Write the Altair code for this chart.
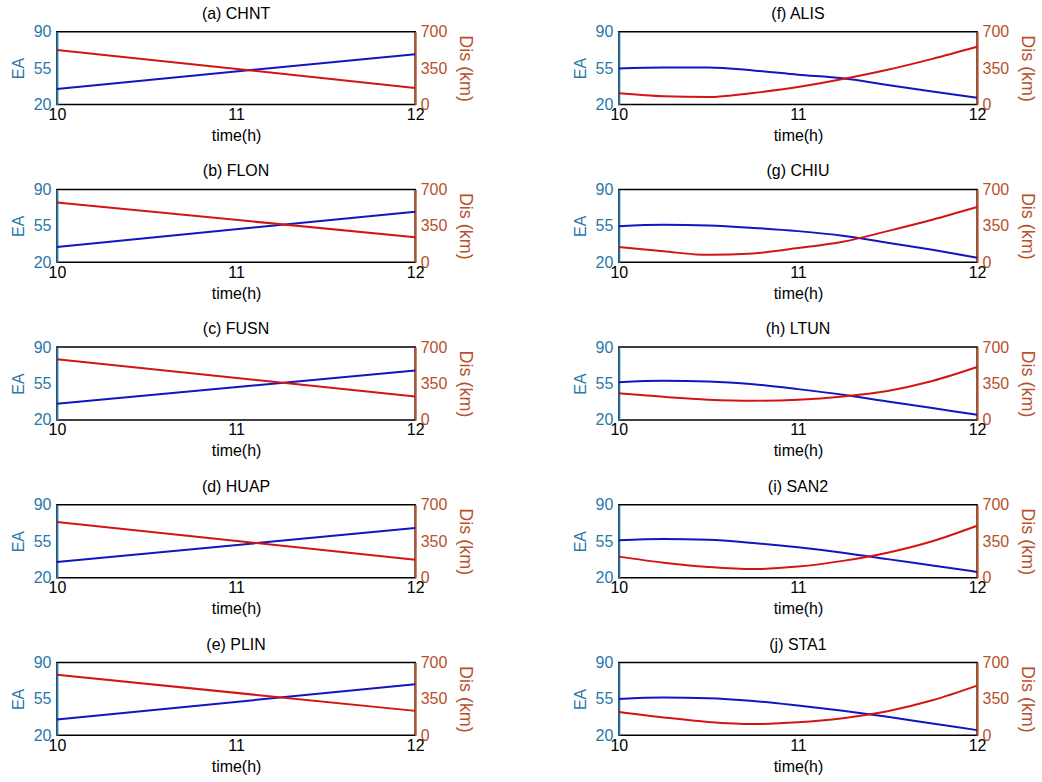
import altair as alt
import pandas as pd

# ---------------- data ----------------
T_LINEAR = [10, 12]
T_CURVE = [10, 10.25, 10.5, 10.75, 11, 11.25, 11.5, 11.75, 12]

X_TICKS = [10, 11, 12]
EA_TICKS = [20, 55, 90]
DIS_TICKS = [0, 350, 700]

LEFT_TITLES = ["(a) CHNT", "(b) FLON", "(c) FUSN", "(d) HUAP", "(e) PLIN"]
RIGHT_TITLES = ["(f) ALIS", "(g) CHIU", "(h) LTUN", "(i) SAN2", "(j) STA1"]

EA_CHNT = [35.0, 68.4]
DIS_CHNT = [525, 160]
EA_FLON = [34.7, 68.6]
DIS_FLON = [574, 240]
EA_FUSN = [35.6, 67.5]
DIS_FUSN = [584, 225]
EA_HUAP = [35.0, 67.6]
DIS_HUAP = [534, 173]
EA_PLIN = [35.2, 69.1]
DIS_PLIN = [581, 235]

EA_ALIS = [54.7, 55.5, 55.5, 52.8, 48.7, 45.2, 38.8, 32.6, 26.6]
DIS_ALIS = [109, 80, 72, 112, 168, 245, 334, 439, 555]
EA_CHIU = [54.7, 56.0, 55.3, 53.0, 49.9, 45.5, 38.7, 31.9, 24.4]
DIS_CHIU = [146, 105, 71, 85, 136, 197, 299, 408, 530]
EA_LTUN = [56.3, 57.7, 57.0, 54.3, 49.6, 44.2, 37.8, 31.4, 25.0]
DIS_LTUN = [256, 222, 195, 185, 195, 226, 279, 374, 508]
EA_SAN2 = [56.0, 57.1, 56.4, 53.3, 49.2, 44.0, 37.8, 31.7, 25.5]
DIS_SAN2 = [202, 144, 103, 82, 106, 161, 240, 350, 498]
EA_STA1 = [55.0, 56.3, 55.7, 53.0, 48.6, 43.6, 37.8, 31.4, 25.0]
DIS_STA1 = [225, 172, 128, 108, 125, 165, 232, 337, 478]

LEFT_DATA = [(T_LINEAR, EA_CHNT, DIS_CHNT), (T_LINEAR, EA_FLON, DIS_FLON),
             (T_LINEAR, EA_FUSN, DIS_FUSN), (T_LINEAR, EA_HUAP, DIS_HUAP),
             (T_LINEAR, EA_PLIN, DIS_PLIN)]
RIGHT_DATA = [(T_CURVE, EA_ALIS, DIS_ALIS), (T_CURVE, EA_CHIU, DIS_CHIU),
              (T_CURVE, EA_LTUN, DIS_LTUN), (T_CURVE, EA_SAN2, DIS_SAN2),
              (T_CURVE, EA_STA1, DIS_STA1)]

# ---------------- style ----------------
FONT = "Liberation Sans"
EA_COLOR = "#2a78a8"
DIS_COLOR = "#b8502c"
LINE_BLUE = "#1414c0"
LINE_RED = "#d41414"
W, H = 359, 73


def panel(title, t, ea, dis):
    df = pd.DataFrame({"t": t, "ea": ea, "dis": dis})
    x_enc = alt.X(
        "t:Q",
        scale=alt.Scale(domain=[10, 12], nice=False, zero=False),
        axis=alt.Axis(values=X_TICKS, title="time(h)", domain=False, ticks=False,
                      grid=False, labelFlush=False, labelOverlap=False, labelPadding=2,
                      labelFontSize=16, titleFontSize=16, titleFontWeight="normal",
                      titlePadding=5, labelColor="black", titleColor="black", format=".0f"),
    )
    blue = alt.Chart(df).mark_line(color=LINE_BLUE, strokeWidth=2, interpolate="monotone").encode(
        x=x_enc,
        y=alt.Y(
            "ea:Q",
            scale=alt.Scale(domain=[20, 90], nice=False, zero=False),
            axis=alt.Axis(values=EA_TICKS, title="EA", orient="left", grid=False, ticks=False,
                          domainColor=EA_COLOR, domainWidth=2, labelColor=EA_COLOR,
                          labelOverlap=False, titleColor=EA_COLOR, labelFontSize=16,
                          titleFontSize=16, titleFontWeight="normal", labelPadding=6,
                          titlePadding=7, format=".0f"),
        ),
    )
    red = alt.Chart(df).mark_line(color=LINE_RED, strokeWidth=2, interpolate="monotone").encode(
        x=x_enc,
        y=alt.Y(
            "dis:Q",
            scale=alt.Scale(domain=[0, 700], nice=False, zero=False),
            axis=alt.Axis(values=DIS_TICKS, title="Dis (km)", orient="right", grid=False, ticks=False,
                          domainColor=DIS_COLOR, domainWidth=2, labelColor=DIS_COLOR,
                          labelOverlap=False, titleColor=DIS_COLOR, labelFontSize=16,
                          titleFontSize=18, titleFontWeight="normal", labelPadding=5,
                          titlePadding=9, format=".0f"),
        ),
    )
    return alt.layer(blue, red).resolve_scale(y="independent").properties(
        width=W, height=H,
        title=alt.TitleParams(title, fontSize=16, fontWeight="normal", offset=2,
                              anchor="middle", color="black", font=FONT),
    )


left = alt.vconcat(*[panel(tt, *d) for tt, d in zip(LEFT_TITLES, LEFT_DATA)], spacing=18)
right = alt.vconcat(*[panel(tt, *d) for tt, d in zip(RIGHT_TITLES, RIGHT_DATA)], spacing=18)

chart = alt.hconcat(left, right, spacing=96).properties(
    padding={"left": 9, "top": 4, "right": 5, "bottom": 5},
    background="white",
).configure_view(
    stroke="black", strokeWidth=1.5
).configure_axis(
    labelFont=FONT, titleFont=FONT
).configure_title(font=FONT)

chart.save("out.html", embed_options={"renderer": "svg", "actions": False})
